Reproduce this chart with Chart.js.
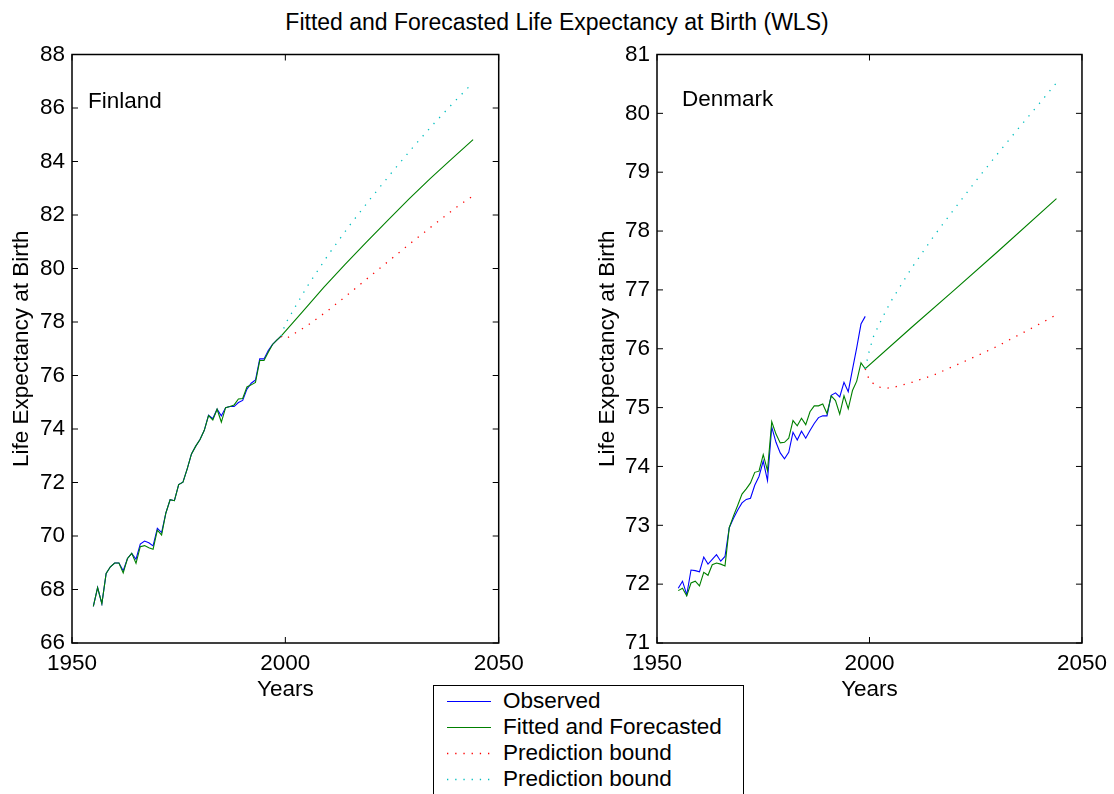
<!DOCTYPE html>
<html>
<head>
<meta charset="utf-8">
<title>Fitted and Forecasted Life Expectancy at Birth (WLS)</title>
<script src="https://cdn.jsdelivr.net/npm/chart.js@4/dist/chart.umd.min.js"></script>
<style>
  html, body { margin: 0; padding: 0; background: #fff; }
  #page { position: relative; width: 1114px; height: 794px; overflow: hidden;
          font-family: "Liberation Sans", Arial, Helvetica, sans-serif; color: #000; }
  #fig-title { position: absolute; left: 0; top: 8px; width: 1114px; text-align: center;
               font-size: 23px; line-height: 28px; }
  canvas { position: absolute; top: 0; }
  #finland-chart { left: 0; }
  #denmark-chart { left: 557px; }
  #legend { position: absolute; left: 433px; top: 685px; width: 311px; height: 130px;
            border: 1px solid #000; background: #fff; box-sizing: border-box; padding-top: 2px; }
  .legend-row { position: relative; height: 26px; font-size: 22.5px; line-height: 26px; }
  .legend-sample { position: absolute; left: 13px; top: 12px; }
  .legend-text { position: absolute; left: 69px; top: 0; white-space: nowrap; }
</style>
</head>
<body>
<div id="page">
  <div id="fig-title">Fitted and Forecasted Life Expectancy at Birth (WLS)</div>
  <canvas id="finland-chart" width="557" height="794"></canvas>
  <canvas id="denmark-chart" width="557" height="794"></canvas>
  <div id="legend"></div>
</div>
<script>
// =============================================
// Data
// =============================================
const years = [
  1955, 1956, 1957, 1958, 1959, 1960, 1961, 1962, 1963, 1964,
  1965, 1966, 1967, 1968, 1969, 1970, 1971, 1972, 1973, 1974,
  1975, 1976, 1977, 1978, 1979, 1980, 1981, 1982, 1983, 1984,
  1985, 1986, 1987, 1988, 1989, 1990, 1991, 1992, 1993, 1994,
  1995, 1996, 1997, 1998, 1999
];

// Finland
const finObserved = [
  67.37, 68.07, 67.47, 68.60, 68.85, 68.99, 68.99, 68.70, 69.16, 69.35,
  69.13, 69.70, 69.81, 69.75, 69.63, 70.29, 70.13, 70.86, 71.36, 71.32,
  71.92, 72.01, 72.51, 73.07, 73.36, 73.61, 73.95, 74.52, 74.39, 74.74,
  74.49, 74.80, 74.84, 74.84, 74.99, 75.07, 75.49, 75.71, 75.83, 76.62,
  76.62, 76.93, 77.16, 77.32, 77.47
];
const finFitted = [
  67.37, 68.07, 67.47, 68.60, 68.85, 68.99, 68.99, 68.62, 69.16, 69.35,
  68.98, 69.60, 69.64, 69.56, 69.50, 70.22, 70.04, 70.86, 71.36, 71.32,
  71.92, 72.01, 72.51, 73.07, 73.36, 73.61, 73.95, 74.50, 74.34, 74.74,
  74.26, 74.80, 74.84, 74.90, 75.12, 75.14, 75.57, 75.65, 75.74, 76.56,
  76.56, 76.87, 77.16, 77.32, 77.47
];
const finForecastYears = [2004, 2009, 2014, 2019, 2024, 2029, 2034, 2039, 2044];
const finForecast      = [78.38, 79.29, 80.15, 80.99, 81.80, 82.60, 83.37, 84.10, 84.82];
const finBoundYears    = [1999, 2000, 2005, 2010, 2015, 2020, 2025, 2030, 2035, 2040, 2044];
const finLower         = [77.47, 77.36, 77.85, 78.43, 79.07, 79.73, 80.38, 81.03, 81.66, 82.28, 82.72];
const finUpper         = [77.47, 77.93, 79.30, 80.50, 81.60, 82.62, 83.60, 84.55, 85.45, 86.30, 86.95];

// Denmark
const denObserved = [
  71.93, 72.05, 71.82, 72.24, 72.23, 72.21, 72.46, 72.34, 72.42, 72.50,
  72.39, 72.47, 72.96, 73.12, 73.26, 73.38, 73.44, 73.46, 73.68, 73.83,
  74.09, 73.76, 74.67, 74.41, 74.23, 74.13, 74.24, 74.58, 74.45, 74.60,
  74.48, 74.61, 74.73, 74.83, 74.86, 74.86, 75.21, 75.25, 75.18, 75.43,
  75.27, 75.65, 76.02, 76.42, 76.55
];
const denFitted = [
  71.89, 71.93, 71.80, 72.02, 72.05, 71.97, 72.20, 72.15, 72.33, 72.36,
  72.34, 72.31, 72.96, 73.16, 73.34, 73.53, 73.62, 73.72, 73.90, 73.92,
  74.20, 73.93, 74.76, 74.55, 74.40, 74.41, 74.48, 74.78, 74.69, 74.82,
  74.71, 74.93, 75.03, 75.03, 75.06, 74.90, 75.20, 75.12, 74.89, 75.20,
  74.98, 75.29, 75.45, 75.76, 75.66
];
const denForecastYears = [2010, 2020, 2030, 2044];
const denForecast      = [76.37, 77.00, 77.64, 78.55];
const denLowerYears    = [1999, 2000, 2002, 2004, 2006, 2008, 2010, 2015, 2020, 2025, 2030, 2035, 2040, 2044];
const denLower         = [75.66, 75.46, 75.35, 75.33, 75.35, 75.39, 75.43, 75.55, 75.71, 75.87, 76.04, 76.23, 76.42, 76.58];
const denUpperYears    = [1999, 2000, 2001, 2003, 2005, 2008, 2010, 2015, 2020, 2025, 2030, 2035, 2040, 2044];
const denUpper         = [75.66, 75.98, 76.22, 76.52, 76.80, 77.15, 77.38, 77.90, 78.38, 78.85, 79.30, 79.74, 80.17, 80.52];

// Axis ticks
const yearTicks   = [1950, 2000, 2050];
const finTicks    = [66, 68, 70, 72, 74, 76, 78, 80, 82, 84, 86, 88];
const denTicks    = [71, 72, 73, 74, 75, 76, 77, 78, 79, 80, 81];

const seriesNames = ['Observed', 'Fitted and Forecasted', 'Prediction bound', 'Prediction bound'];

// =============================================
// Styles
// =============================================
const BLUE  = '#0000ff';
const GREEN = '#008000';
const RED   = '#ff0000';
const CYAN  = '#00bfbf';
const FONT  = '"Liberation Sans", Arial, Helvetica, sans-serif';
const DOTS  = [1.3, 6.9];

Chart.defaults.font.family = FONT;
Chart.defaults.font.size = 22.5;
Chart.defaults.color = '#000';

function points(xs, ys) {
  return xs.map((x, i) => ({ x, y: ys[i] }));
}

function solidSet(label, data, color, order) {
  return { label, data, order, borderColor: color, borderWidth: 1.1,
           pointRadius: 0, tension: 0, fill: false };
}

function dottedSet(label, data, color, order) {
  return { label, data, order, borderColor: color, borderWidth: 1.3,
           borderDash: DOTS, pointRadius: 0, tension: 0, fill: false };
}

// Boxed axes with inward ticks on all four sides, plus the country tag
const plotFrame = {
  id: 'plotFrame',
  afterDraw(chart, args, opts) {
    const { ctx, chartArea: a } = chart;
    const x = chart.scales.x;
    const y = chart.scales.y;
    const len = 6;

    ctx.save();
    ctx.strokeStyle = '#000';
    ctx.lineWidth = 1;
    ctx.beginPath();
    x.ticks.forEach(t => {
      const px = x.getPixelForValue(t.value);
      ctx.moveTo(px, a.bottom); ctx.lineTo(px, a.bottom - len);
      ctx.moveTo(px, a.top);    ctx.lineTo(px, a.top + len);
    });
    y.ticks.forEach(t => {
      const py = y.getPixelForValue(t.value);
      ctx.moveTo(a.left, py);  ctx.lineTo(a.left + len, py);
      ctx.moveTo(a.right, py); ctx.lineTo(a.right - len, py);
    });
    ctx.stroke();

    ctx.lineWidth = 1.5;
    ctx.strokeRect(a.left, a.top, a.right - a.left, a.bottom - a.top);

    ctx.fillStyle = '#000';
    ctx.font = '22.5px ' + FONT;
    ctx.textAlign = 'left';
    ctx.textBaseline = 'middle';
    ctx.fillText(opts.label, a.left + opts.dx, a.top + opts.dy);
    ctx.restore();
  }
};

// =============================================
// Charts
// =============================================
function makeChart(canvasId, cfg) {
  const green = points(years, cfg.fitted).concat(points(cfg.forecastYears, cfg.forecast));

  return new Chart(document.getElementById(canvasId), {
    type: 'line',
    data: {
      datasets: [
        solidSet(seriesNames[0], points(years, cfg.observed), BLUE, 4),
        solidSet(seriesNames[1], green, GREEN, 3),
        dottedSet(seriesNames[2], points(cfg.lowerYears, cfg.lower), RED, 2),
        dottedSet(seriesNames[3], points(cfg.upperYears, cfg.upper), CYAN, 1)
      ]
    },
    options: {
      responsive: false,
      animation: false,
      devicePixelRatio: 1,
      layout: { padding: { top: 54.5, right: cfg.padRight, bottom: 91, left: 0 } },
      plugins: {
        legend: { display: false },
        tooltip: { enabled: false },
        plotFrame: { label: cfg.label, dx: cfg.labelDx, dy: cfg.labelDy }
      },
      scales: {
        x: {
          type: 'linear',
          min: yearTicks[0],
          max: yearTicks[yearTicks.length - 1],
          afterFit: (s) => { s.height = 60; },
          afterBuildTicks: (s) => { s.ticks = yearTicks.map(v => ({ value: v })); },
          grid: { display: false, drawTicks: false },
          border: { display: false },
          ticks: { padding: 7, autoSkip: false, maxRotation: 0, callback: (v) => String(v) },
          title: { display: true, text: 'Years', padding: { top: 0, bottom: 0 } }
        },
        y: {
          type: 'linear',
          min: cfg.ticks[0],
          max: cfg.ticks[cfg.ticks.length - 1],
          afterFit: (s) => { s.width = cfg.axisWidth; },
          afterBuildTicks: (s) => { s.ticks = cfg.ticks.map(v => ({ value: v })); },
          grid: { display: false, drawTicks: false },
          border: { display: false },
          ticks: { padding: 7, autoSkip: false, callback: (v) => String(v) },
          title: { display: true, text: 'Life Expectancy at Birth', padding: { top: cfg.titlePad, bottom: 0 } }
        }
      }
    },
    plugins: [plotFrame]
  });
}

// Legend rows: short line sample + series name
function renderLegend() {
  const styles = [
    { color: BLUE,  dotted: false },
    { color: GREEN, dotted: false },
    { color: RED,   dotted: true },
    { color: CYAN,  dotted: true }
  ];
  document.getElementById('legend').innerHTML = seriesNames.map((name, i) => {
    const s = styles[i];
    const dash = s.dotted ? `stroke-dasharray="${DOTS.join(' ')}" stroke-width="1.3"` : 'stroke-width="1.1"';
    return `
      <div class="legend-row">
        <svg class="legend-sample" width="44" height="3">
          <line x1="0" y1="1.5" x2="44" y2="1.5" stroke="${s.color}" ${dash}/>
        </svg>
        <div class="legend-text">${name}</div>
      </div>`;
  }).join('');
}

makeChart('finland-chart', {
  observed: finObserved, fitted: finFitted,
  forecastYears: finForecastYears, forecast: finForecast,
  lowerYears: finBoundYears, lower: finLower,
  upperYears: finBoundYears, upper: finUpper,
  ticks: finTicks, axisWidth: 72, padRight: 58.3, titlePad: 8,
  label: 'Finland', labelDx: 16, labelDy: 47
});

makeChart('denmark-chart', {
  observed: denObserved, fitted: denFitted,
  forecastYears: denForecastYears, forecast: denForecast,
  lowerYears: denLowerYears, lower: denLower,
  upperYears: denUpperYears, upper: denUpper,
  ticks: denTicks, axisWidth: 100, padRight: 30.7, titlePad: 37,
  label: 'Denmark', labelDx: 25, labelDy: 45.5
});

renderLegend();
</script>
</body>
</html>
